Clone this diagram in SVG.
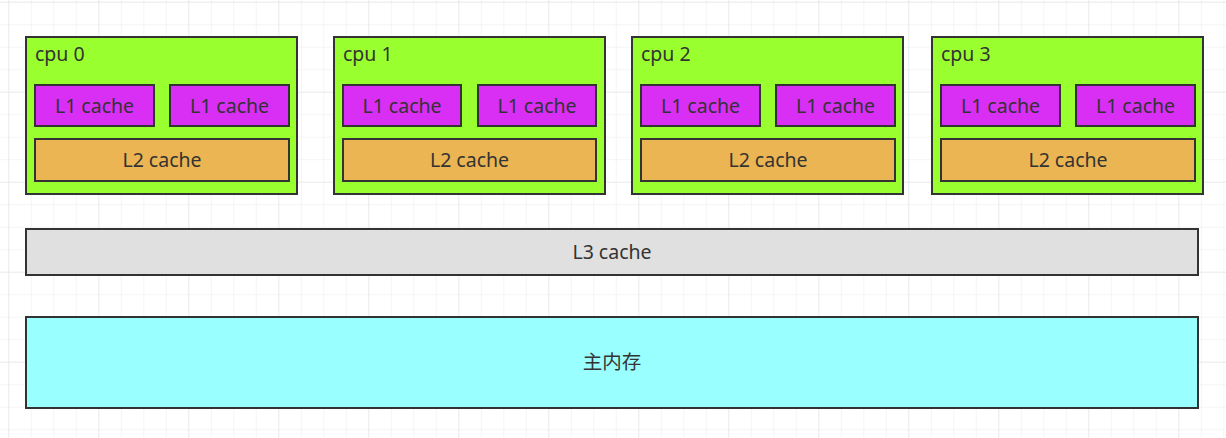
<svg xmlns="http://www.w3.org/2000/svg" width="1226" height="438" viewBox="0 0 1226 438">
  <defs>
    <pattern id="minor" x="8.3" y="1.7" width="22.5" height="22.5" patternUnits="userSpaceOnUse">
      <path d="M0 0V22.5M0 0H22.5" fill="none" stroke="#ececec" stroke-width="1"/>
    </pattern>
    <pattern id="major" x="8.3" y="1.7" width="90" height="90" patternUnits="userSpaceOnUse">
      <path d="M0 0V90M0 0H90" fill="none" stroke="#e2e2e2" stroke-width="1"/>
    </pattern>
    <style>
      .box { stroke: #333333; stroke-width: 2; }
      .cpu { fill: #99FF2E; }
      .l1 { fill: #D92FF5; }
      .l2 { fill: #EAB552; }
      .l3 { fill: #E0E0E0; }
      .mem { fill: #99FFFF; }
      text { font-family: "Noto Sans", "Noto Sans CJK SC", sans-serif; font-size: 19.5px; fill: #333333; }
      .c { text-anchor: middle; }
    </style>
  </defs>
  <rect width="1226" height="438" fill="#ffffff"/>
  <rect width="1226" height="438" fill="url(#minor)"/>
  <rect width="1226" height="438" fill="url(#major)"/>

  <g id="cpu0">
    <rect class="box cpu" x="26" y="37" width="271" height="157"/>
    <text x="35" y="61">cpu 0</text>
    <rect class="box l1" x="35" y="85" width="119" height="41"/>
    <text class="c" x="94.5" y="113">L1 cache</text>
    <rect class="box l1" x="170" y="85" width="119" height="41"/>
    <text class="c" x="229.5" y="113">L1 cache</text>
    <rect class="box l2" x="35" y="139" width="254" height="42"/>
    <text class="c" x="162" y="167">L2 cache</text>
  </g>
  <g id="cpu1">
    <rect class="box cpu" x="334" y="37" width="271" height="157"/>
    <text x="343" y="61">cpu 1</text>
    <rect class="box l1" x="343" y="85" width="118" height="41"/>
    <text class="c" x="402" y="113">L1 cache</text>
    <rect class="box l1" x="478" y="85" width="118" height="41"/>
    <text class="c" x="537" y="113">L1 cache</text>
    <rect class="box l2" x="343" y="139" width="253" height="42"/>
    <text class="c" x="469.5" y="167">L2 cache</text>
  </g>
  <g id="cpu2">
    <rect class="box cpu" x="632" y="37" width="271" height="157"/>
    <text x="641" y="61">cpu 2</text>
    <rect class="box l1" x="641" y="85" width="119" height="41"/>
    <text class="c" x="700.5" y="113">L1 cache</text>
    <rect class="box l1" x="776" y="85" width="119" height="41"/>
    <text class="c" x="835.5" y="113">L1 cache</text>
    <rect class="box l2" x="641" y="139" width="254" height="42"/>
    <text class="c" x="768" y="167">L2 cache</text>
  </g>
  <g id="cpu3">
    <rect class="box cpu" x="932" y="37" width="271" height="157"/>
    <text x="941" y="61">cpu 3</text>
    <rect class="box l1" x="941" y="85" width="119" height="41"/>
    <text class="c" x="1000.5" y="113">L1 cache</text>
    <rect class="box l1" x="1076" y="85" width="119" height="41"/>
    <text class="c" x="1135.5" y="113">L1 cache</text>
    <rect class="box l2" x="941" y="139" width="254" height="42"/>
    <text class="c" x="1068" y="167">L2 cache</text>
  </g>
  <g id="l3">
    <rect class="box l3" x="26" y="229" width="1172" height="46"/>
    <text class="c" x="612" y="259">L3 cache</text>
  </g>
  <g id="memory">
    <rect class="box mem" x="26" y="317" width="1172" height="91"/>
    <text class="c" x="612" y="369">主内存</text>
  </g>
  <g id="connectors"/>
</svg>
